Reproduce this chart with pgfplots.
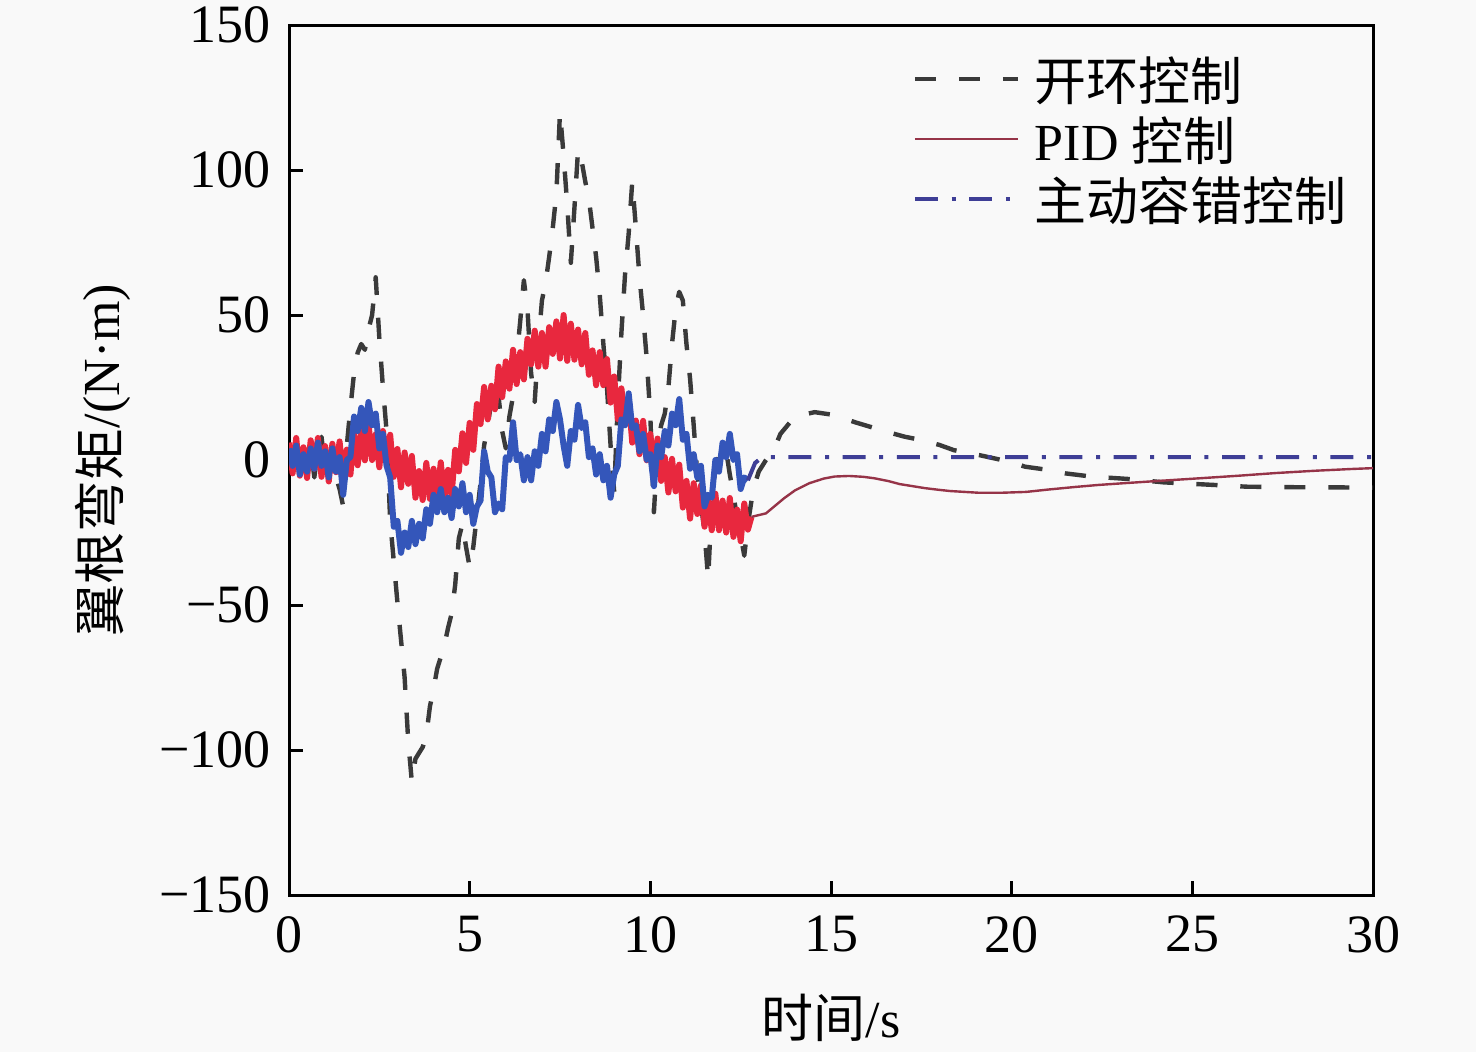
\documentclass[border=0pt]{standalone}
\usepackage{fontspec}
\setmainfont{Liberation Serif}
\newfontfamily\cjk{Noto Sans CJK SC}
\usepackage{pgfplots}
\pgfplotsset{compat=1.18}
\usepackage{pgfplotstable}
\definecolor{bgc}{RGB}{249,249,249}
\definecolor{olc}{RGB}{58,58,58}
\definecolor{pidn}{RGB}{232,40,62}
\definecolor{pids}{RGB}{150,52,72}
\definecolor{afn}{RGB}{52,86,186}
\definecolor{afs}{RGB}{62,62,150}
\newcommand\fs{\fontsize{13pt}{15pt}\selectfont}
\newcommand\fst{\fontsize{13.5pt}{16pt}\selectfont}

\pgfplotstableread{
t v
0 3
0.1 -2
0.2 4
0.3 -4
0.4 2
0.5 -3
0.6 5
0.7 -6
0.8 3
0.9 8
1.0 -3
1.1 2
1.2 -4
1.3 -6
1.4 -10
1.5 -16
1.6 5
1.7 18
1.8 30
1.9 37
2.0 40
2.1 38
2.2 45
2.3 50
2.4 63
2.5 42
2.6 25
2.7 10
2.8 -21
2.9 -35
3.0 -49
3.1 -62
3.2 -75
3.3 -97
3.4 -111
3.5 -103
3.6 -101
3.7 -99
3.8 -95
3.9 -85
4.0 -79
4.1 -72
4.2 -68
4.3 -64
4.4 -58
4.5 -53
4.6 -43
4.7 -27
4.8 -22
4.9 -30
5.0 -37
5.1 -30
5.2 -19
5.3 -8
5.4 5
5.5 12
5.6 20
5.7 15
5.8 22
5.9 10
6.0 4
6.1 15
6.2 22
6.3 35
6.4 48
6.5 62
6.6 52
6.7 30
6.8 20
6.9 40
7.0 55
7.1 61
7.2 70
7.3 80
7.4 92
7.5 120
7.6 105
7.7 88
7.8 68
7.9 87
8.0 107
8.1 103
8.2 96
8.3 90
8.4 80
8.5 70
8.6 57
8.7 40
8.8 25
8.9 5
9.0 -11
9.1 20
9.2 44
9.3 64
9.4 78
9.5 96
9.6 80
9.7 63
9.8 50
9.9 35
10.0 15
10.1 -18
10.2 5
10.3 12
10.4 16
10.5 25
10.6 40
10.7 52
10.8 58
10.9 55
11.0 40
11.1 28
11.2 12
11.3 -5
11.4 -15
11.5 -25
11.6 -41
11.7 -15
11.8 -3
11.9 2
12.0 4
12.1 3
12.2 -5
12.3 -12
12.4 -20
12.5 -26
12.6 -33
12.7 -22
12.8 -14
12.9 -8
13.0 -4
13.2 0
13.45 4.5
13.6 9
14.0 15
14.55 16.5
15.1 15.5
15.67 13
16.1 11.4
16.55 9.7
17.05 8
17.46 7
18.0 5.2
18.4 3.4
19.1 1.7
19.95 -0.6
20.37 -2.3
21.06 -3.5
21.48 -4.6
22.2 -5.7
23.3 -6.6
24.2 -7.7
25.6 -8.6
26.5 -9.2
28.0 -9.4
30 -9.5
}\openloop

\pgfplotstableread{
t v
0 6
0.1 -4.6
0.2 7.6
0.3 -5.4
0.4 4.4
0.5 -6.2
0.6 6.8
0.7 -3
0.8 7.6
0.9 -5.8
1.0 4.8
1.1 -7.4
1.2 5.6
1.3 -4.2
1.4 6.4
1.5 -7
1.6 3.6
1.7 -5
1.8 9.2
1.9 -1.8
2.0 10
2.1 -0.1
2.2 12.5
2.3 0
2.4 8.9
2.5 -2.5
2.6 10
2.7 -0.8
2.8 8.7
2.9 -5.8
3.0 3.8
3.1 -9.4
3.2 2.6
3.3 -8.2
3.4 1.4
3.5 -13
3.6 -3.8
3.7 -13.8
3.8 -1
3.9 -13.4
4.0 -3
4.1 -13.3
4.2 -0.8
4.3 -13.5
4.4 -3.4
4.5 -12
4.6 3.5
4.7 -3.9
4.8 9.2
4.9 -1
5.0 12.8
5.1 3.5
5.2 19.3
5.3 12.4
5.4 25.2
5.5 14
5.6 25.6
5.7 17.5
5.8 32.2
5.9 21.7
6.0 34
6.1 24.6
6.2 38
6.3 26.2
6.4 37.2
6.5 27.8
6.6 41.8
6.7 33
6.8 44.6
6.9 32.2
7.0 43.8
7.1 32.2
7.2 45.8
7.3 36.6
7.4 47.8
7.5 35
7.6 50
7.7 34.2
7.8 47
7.9 34.6
8.0 45
8.1 33
8.2 43.8
8.3 29.4
8.4 37.8
8.5 25.8
8.6 37.2
8.7 25.8
8.8 34.8
8.9 19.8
9.0 28.8
9.1 14.1
9.2 24.7
9.3 12.4
9.4 21.2
9.5 6
9.6 13.6
9.7 2
9.8 13.5
9.9 -0.1
10.0 9
10.1 -3.2
10.2 7.4
10.3 -7.2
10.4 1
10.5 -11.2
10.6 0.4
10.7 -10.8
10.8 -1.6
10.9 -16.4
11.0 -7.2
11.1 -20.2
11.2 -8
11.3 -18.6
11.4 -8.8
11.5 -23
11.6 -14
11.7 -24.2
11.8 -11.6
11.9 -24.2
12.0 -14
12.1 -25
12.2 -13.1
12.3 -26.5
12.4 -17.1
12.5 -28
12.6 -15
12.7 -24
12.8 -19.6
}\pidnoisy

\pgfplotstableread{
t v
12.8 -19.6
13.2 -18.4
13.7 -13.2
14.0 -10.5
14.4 -8
14.8 -6.4
15.1 -5.7
15.5 -5.5
15.9 -5.8
16.2 -6.3
16.6 -7.3
16.9 -8.3
17.3 -9.1
17.6 -9.7
18.0 -10.3
18.3 -10.7
18.7 -11.0
19.1 -11.3
19.7 -11.3
20.4 -11
21.0 -10.2
21.75 -9.3
22.4 -8.6
23.1 -8
24.2 -7.1
25.2 -6.3
26.3 -5.4
27.3 -4.5
28.4 -3.7
29.4 -3.1
30 -2.8
}\pidsmooth

\pgfplotstableread{
t v
0 4
0.1 -2
0.2 5
0.3 -5
0.4 2
0.5 -4
0.6 4
0.7 -3
0.8 6
0.9 -2
1.0 3
1.1 -6
1.2 4
1.3 -4
1.4 1
1.5 -12
1.6 0
1.7 1
1.8 15
1.9 10
2.0 18
2.1 10
2.2 20
2.3 12
2.4 16
2.5 4
2.6 9
2.7 -2
2.8 -6
2.9 -23
3.0 -21
3.1 -32
3.2 -25
3.3 -30
3.4 -21
3.5 -29
3.6 -22
3.7 -27
3.8 -17
3.9 -22
4.0 -12
4.1 -18
4.2 -10
4.3 -18
4.4 -13
4.5 -20
4.6 -10
4.7 -16
4.8 -8
4.9 -18
5.0 -12
5.1 -22
5.2 -16
5.3 -14
5.4 3
5.5 -4
5.6 -6
5.7 -18
5.8 -15
5.9 -17
6.0 1
6.1 0
6.2 13
6.3 0
6.4 2
6.5 -7
6.6 1
6.7 -7
6.8 3
6.9 -2
7.0 9
7.1 3
7.2 14
7.3 10
7.4 20
7.5 14
7.6 5
7.7 -2
7.8 10
7.9 7
8.0 19
8.1 11
8.2 13
8.3 1
8.4 4
8.5 -5
8.6 2
8.7 -7
8.8 -2
8.9 -13
9.0 -5
9.1 -2
9.2 14
9.3 12
9.4 23
9.5 11
9.6 12
9.7 3
9.8 9
9.9 0
10.0 2
10.1 -9
10.2 5
10.3 1
10.4 10
10.5 5
10.6 16
10.7 12
10.8 21
10.9 7
11.0 9
11.1 -3
11.2 2
11.3 -6
11.4 -2
11.5 -16
11.6 -12
11.7 -13
11.8 0
11.9 -4
12.0 6
12.1 1
12.2 9
12.3 0
12.4 2
12.5 -10
12.6 -6
12.7 -7
}\afnoisy

\pgfplotstableread{
t v
12.7 -7
12.8 -4
12.9 -1
13.1 1
14 1
20 1
30 1
}\afsmooth

\begin{document}
\begin{tikzpicture}
\fill[bgc] (-72.25pt,-39.25pt) rectangle (296.75pt,223.75pt);
\begin{axis}[
  at={(0pt,0pt)}, anchor=south west,
  scale only axis, width=271pt, height=217.5pt,
  xmin=0, xmax=30, ymin=-150, ymax=150,
  xtick={0,5,10,15,20,25,30},
  xticklabels={0,5,10,15,20,25,30},
  ytick={-150,-100,-50,0,50,100,150},
  yticklabels={−150,−100,−50,0,50,100,150},
  tick pos=left, tick align=inside,
  major tick length=3.5pt,
  axis line style={line width=0.75pt, black},
  every tick/.style={line width=0.75pt, black},
  tick label style={font=\fst},
  x tick label style={yshift=-1.75pt},
  y tick label style={xshift=-1pt},
  xlabel={{\cjk 时间}/s},
  ylabel={{\cjk 翼根弯矩}/(N·m)},
  label style={font=\fs},
  x label style={at={(axis description cs:0.5,-0.1414)}, anchor=center},
  y label style={at={(axis description cs:-0.1716,0.5)}, anchor=center, rotate=0},
  axis background/.style={fill=bgc},
  legend cell align=left,
  legend style={at={(axis description cs:0.5747,0.9607)}, anchor=north west,
    draw=none, fill=none, inner sep=0pt, font=\fs,
    nodes={inner sep=0pt, text height=10pt, text depth=5pt}},
  legend image code/.code={\draw[#1] (0pt,2.75pt) -- (25.75pt,2.75pt); \path[draw=none] (25.75pt,2.75pt) -- (30pt,2.75pt);},
]
\addplot[olc, line width=1.1pt, dash pattern=on 5.3pt off 5.7pt, line join=round, forget plot] table[x=t,y=v] {\openloop};
\addplot[pidn, line width=1.5pt, line join=round, forget plot] table[x=t,y=v] {\pidnoisy};
\addplot[pids, line width=0.6pt, forget plot] table[x=t,y=v] {\pidsmooth};
\addplot[afn, line width=1.5pt, line join=round, forget plot] table[x=t,y=v] {\afnoisy};
\addplot[afs, line width=1pt, dash pattern=on 5.75pt off 3.4pt on 1pt off 3.4pt, forget plot] table[x=t,y=v] {\afsmooth};
\addlegendimage{olc, line width=1.1pt, dash pattern=on 5.3pt off 5.7pt}
\addlegendentry{{\cjk 开环控制}}
\addlegendimage{pids, line width=0.6pt}
\addlegendentry{PID {\cjk 控制}}
\addlegendimage{afs, line width=1pt, dash pattern=on 5.75pt off 3.4pt on 1pt off 3.4pt}
\addlegendentry{{\cjk 主动容错控制}}
\end{axis}
\pgfresetboundingbox
\path[use as bounding box] (-72.25pt,-39.25pt) rectangle (296.75pt,223.75pt);
\end{tikzpicture}
\end{document}
